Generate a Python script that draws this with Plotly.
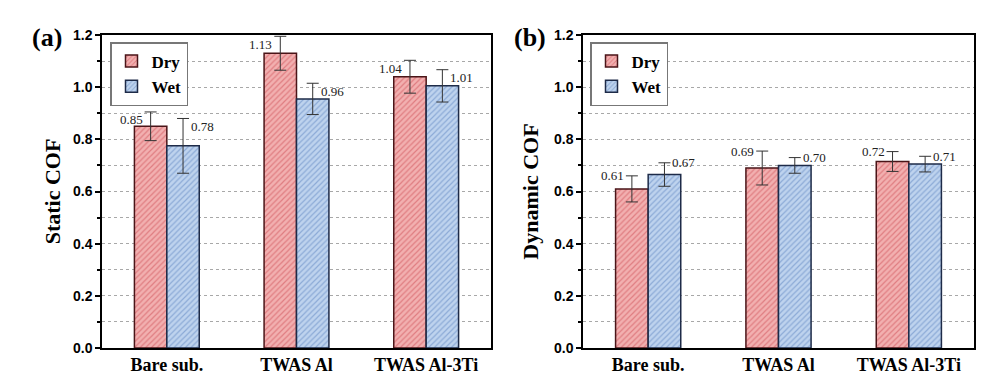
import plotly.graph_objects as go

categories = ["Bare sub.", "TWAS Al", "TWAS Al-3Ti"]

static_dry = [0.85, 1.13, 1.04]
static_wet = [0.775, 0.955, 1.005]
static_dry_err = [0.055, 0.065, 0.063]
static_wet_err = [0.105, 0.06, 0.062]
static_dry_lbl = ["0.85", "1.13", "1.04"]
static_wet_lbl = ["0.78", "0.96", "1.01"]

dyn_dry = [0.61, 0.69, 0.715]
dyn_wet = [0.665, 0.70, 0.705]
dyn_dry_err = [0.05, 0.065, 0.038]
dyn_wet_err = [0.045, 0.03, 0.03]
dyn_dry_lbl = ["0.61", "0.69", "0.72"]
dyn_wet_lbl = ["0.67", "0.70", "0.71"]

y_ticks = [0.0, 0.2, 0.4, 0.6, 0.8, 1.0, 1.2]
y_tick_text = ["0.0", "0.2", "0.4", "0.6", "0.8", "1.0", "1.2"]

SERIF = "Liberation Serif"
SANS = "Liberation Sans"

DRY = dict(bg="#F2B0B0", fg="#CC4A52", line="#4A1518")
WET = dict(bg="#BED3EE", fg="#5A82BE", line="#1E2B48")

fig = go.Figure()


def add_panel(dry, wet, dry_err, wet_err, xa, ya, legend):
    for name, vals, errs, st in (("Dry", dry, dry_err, DRY), ("Wet", wet, wet_err, WET)):
        fig.add_trace(go.Bar(
            x=categories, y=vals, name=name, xaxis=xa, yaxis=ya, legend=legend,
            marker=dict(color=st["bg"], line=dict(color=st["line"], width=1.5),
                        pattern=dict(shape="/", fgcolor=st["fg"], bgcolor=st["bg"],
                                     size=4, solidity=0.3, fillmode="overlay")),
            error_y=dict(type="data", array=errs, color="#333333", thickness=1, width=6),
            hoverinfo="skip",
        ))


add_panel(static_dry, static_wet, static_dry_err, static_wet_err, "x", "y", "legend")
add_panel(dyn_dry, dyn_wet, dyn_dry_err, dyn_wet_err, "x2", "y2", "legend2")


def add_labels(dry, wet, dry_err, wet_err, dl, wl, xref, yref, yshift):
    for i in range(len(categories)):
        fig.add_annotation(x=i - 0.125, y=dry[i] + dry_err[i], xref=xref, yref=yref,
                           text=dl[i], showarrow=False, xanchor="right", yanchor="middle",
                           xshift=-6, yshift=yshift,
                           font=dict(family=SERIF, size=13, color="#222"))
        fig.add_annotation(x=i + 0.125, y=wet[i] + wet_err[i], xref=xref, yref=yref,
                           text=wl[i], showarrow=False, xanchor="left", yanchor="middle",
                           xshift=6, yshift=yshift,
                           font=dict(family=SERIF, size=13, color="#222"))


add_labels(static_dry, static_wet, static_dry_err, static_wet_err,
           static_dry_lbl, static_wet_lbl, "x", "y", -8)
add_labels(dyn_dry, dyn_wet, dyn_dry_err, dyn_wet_err,
           dyn_dry_lbl, dyn_wet_lbl, "x2", "y2", 0)

W, H = 999, 392
ydom = [1 - 348 / H, 1 - 35 / H]

xcommon = dict(range=[-0.5, 2.5], showline=True, mirror=True, linecolor="black", linewidth=1.5,
               ticks="", showgrid=False, zeroline=False, automargin=False,
               tickfont=dict(family=SERIF, size=18, color="black", weight="bold"))
ycommon = dict(range=[0, 1.2], tickvals=y_ticks, ticktext=y_tick_text, automargin=False,
               showline=True, mirror=True, linecolor="black", linewidth=1.5,
               ticks="outside", ticklen=5, tickwidth=1.5, tickcolor="black",
               showgrid=True, gridcolor="#a8a8a8", griddash="dot", gridwidth=1,
               zeroline=False,
               minor=dict(dtick=0.1, ticks="outside", ticklen=3, tickwidth=1.5, tickcolor="black",
                          showgrid=True, gridcolor="#a8a8a8", griddash="dot", gridwidth=1),
               tickfont=dict(family=SANS, size=14, color="black", weight="bold"),
               title_font=dict(family=SERIF, size=22, color="black", weight="bold"))

legend_common = dict(bgcolor="white", bordercolor="#777", borderwidth=1.5,
                     font=dict(family=SERIF, size=17, color="black", weight="bold"),
                     xanchor="left", yanchor="top", tracegroupgap=0, itemwidth=30,
                     traceorder="normal")

fig.update_layout(
    width=W, height=H, margin=dict(l=0, r=0, t=0, b=0, autoexpand=False),
    paper_bgcolor="white", plot_bgcolor="white",
    barmode="group", bargap=0.5, bargroupgap=0,
    xaxis=dict(domain=[102 / W, 491 / W], anchor="y", **xcommon),
    yaxis=dict(domain=ydom, anchor="x", title_text="Static COF", title_standoff=6, **ycommon),
    xaxis2=dict(domain=[583 / W, 974 / W], anchor="y2", **xcommon),
    yaxis2=dict(domain=ydom, anchor="x2", title_text="Dynamic COF", title_standoff=9, **ycommon),
    legend=dict(x=110 / W, y=1 - 42 / H, **legend_common),
    legend2=dict(x=590 / W, y=1 - 42 / H, **legend_common),
    showlegend=True,
)

fig.add_annotation(x=47 / W, y=1 - 38 / H, xref="paper", yref="paper", text="(a)",
                   xanchor="center", yanchor="middle",
                   showarrow=False, font=dict(family=SERIF, size=26, color="black", weight="bold"))
fig.add_annotation(x=530 / W, y=1 - 38 / H, xref="paper", yref="paper", text="(b)",
                   xanchor="center", yanchor="middle",
                   showarrow=False, font=dict(family=SERIF, size=26, color="black", weight="bold"))

fig.write_html("out.html", config={"displayModeBar": False},
               post_script="document.body.style.margin='0';")
